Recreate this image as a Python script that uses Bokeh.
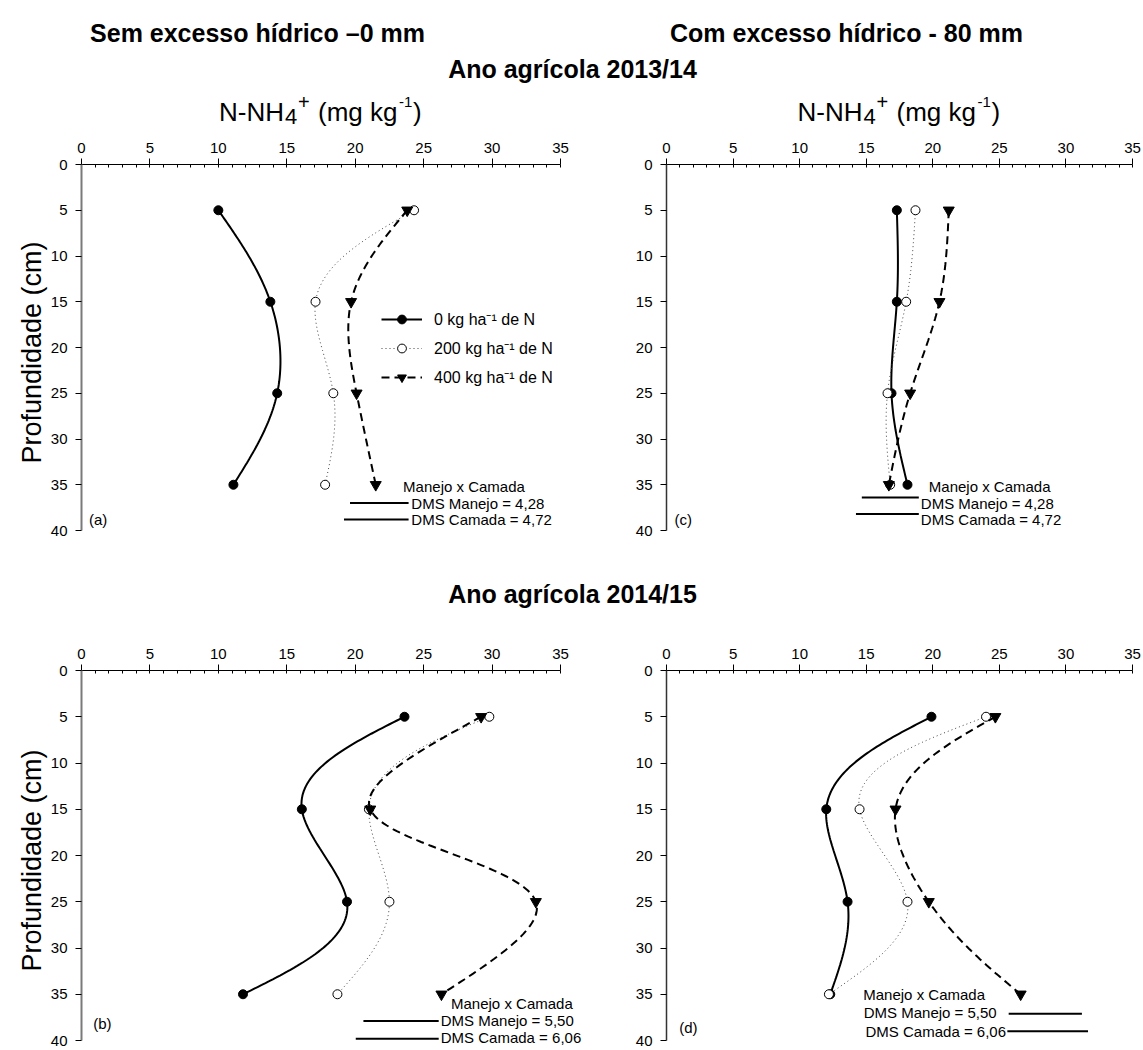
import numpy as np
from bokeh.plotting import figure
from bokeh.layouts import column, row
from bokeh.models import Range1d, FixedTicker, Label, Legend, LegendItem
from bokeh.embed import file_html
from bokeh.resources import INLINE

# ---------------- data ----------------
depth = [5, 15, 25, 35]

# 2013/14 - sem excesso hidrico (a)
a_n0 = [10.0, 13.8, 14.3, 11.1]
a_n200 = [24.3, 17.1, 18.4, 17.8]
a_n400 = [23.8, 19.7, 20.1, 21.5]
# 2013/14 - com excesso hidrico (c)
c_n0 = [17.3, 17.3, 16.9, 18.1]
c_n200 = [18.7, 18.0, 16.6, 16.8]
c_n400 = [21.2, 20.5, 18.3, 16.7]
# 2014/15 - sem excesso hidrico (b)
b_n0 = [23.6, 16.1, 19.4, 11.8]
b_n200 = [29.8, 21.0, 22.5, 18.7]
b_n400 = [29.2, 21.1, 33.2, 26.3]
# 2014/15 - com excesso hidrico (d)
d_n0 = [19.9, 12.0, 13.6, 12.3]
d_n200 = [24.0, 14.5, 18.1, 12.2]
d_n400 = [24.7, 17.2, 19.7, 26.6]

dms_2013 = [4.28, 4.72]   # Manejo, Camada
dms_2014 = [5.50, 6.06]

x_ticks = [0, 5, 10, 15, 20, 25, 30, 35]
y_ticks = [0, 5, 10, 15, 20, 25, 30, 35, 40]
series_labels = ["0 kg ha\u207b\u00b9 de N", "200 kg ha\u207b\u00b9 de N", "400 kg ha\u207b\u00b9 de N"]

FONT = "Liberation Sans"
X_MAX, Y_MAX = 35, 40


def natural(t, v, tt):
    t = np.asarray(t, float); v = np.asarray(v, float)
    k = len(t); h = np.diff(t)
    A = np.zeros((k, k)); r = np.zeros(k)
    A[0, 0] = A[-1, -1] = 1.0
    for i in range(1, k - 1):
        A[i, i - 1] = h[i - 1]; A[i, i] = 2 * (h[i - 1] + h[i]); A[i, i + 1] = h[i]
        r[i] = 6 * ((v[i + 1] - v[i]) / h[i] - (v[i] - v[i - 1]) / h[i - 1])
    M = np.linalg.solve(A, r)
    idx = np.clip(np.searchsorted(t, tt, side="right") - 1, 0, k - 2)
    t0 = t[idx]; t1 = t[idx + 1]; hh = t1 - t0
    a = (t1 - tt) / hh; b = (tt - t0) / hh
    return a * v[idx] + b * v[idx + 1] + ((a ** 3 - a) * M[idx] + (b ** 3 - b) * M[idx + 1]) * hh ** 2 / 6


def smooth(xv, yv, n=120, kx=13.5, ky=9.2):
    X = np.asarray(xv, float) * kx; Y = np.asarray(yv, float) * ky
    t = np.concatenate([[0.0], np.cumsum(np.hypot(np.diff(X), np.diff(Y)))])
    tt = np.linspace(0, t[-1], n)
    return natural(t, xv, tt), natural(t, yv, tt)


def fmt(v):
    return f"{v:.2f}".replace(".", ",")


def panel(series, left, top, letter, letter_xy, dms_cfg, legend=False):
    if left:
        W, bl, dw = 600, 81, 479
    else:
        W, bl, dw = 543, 66, 466
    if top:
        H, bt, dh = 408, 32, 366
    else:
        H, bt, dh = 440, 60, 370
    fw, fh = W - bl, H - bt
    x_end = X_MAX * fw / dw
    y_end = Y_MAX * fh / dh
    p = figure(width=W, height=H, x_range=Range1d(0, x_end), y_range=Range1d(y_end, 0),
               x_axis_location="above", output_backend="svg", toolbar_location=None,
               min_border_left=bl, min_border_right=0, min_border_top=bt, min_border_bottom=0)
    p.outline_line_color = None
    p.grid.visible = False
    p.background_fill_color = "white"

    xa = p.xaxis[0]
    xa.bounds = (0, X_MAX)
    xa.ticker = FixedTicker(ticks=x_ticks, minor_ticks=list(range(0, 36)))
    xa.major_tick_out = 6; xa.major_tick_in = 0
    xa.minor_tick_out = 0; xa.minor_tick_in = 3
    xa.major_label_standoff = 6
    xa.axis_line_color = "black"; xa.axis_line_width = 1
    xa.major_tick_line_color = "black"; xa.minor_tick_line_color = "black"
    xa.major_label_text_font = FONT; xa.major_label_text_font_size = "15px"
    xa.major_label_text_color = "black"

    ya = p.yaxis[0]
    ya.bounds = (0, Y_MAX)
    ya.ticker = FixedTicker(ticks=y_ticks, minor_ticks=[])
    ya.major_tick_out = 6; ya.major_tick_in = 0
    ya.minor_tick_out = 0; ya.minor_tick_in = 0
    ya.major_label_standoff = 8
    ya.axis_line_color = "#7a7a7a" if left else "#333333"
    ya.axis_line_width = 2 if left else 1.5
    ya.major_tick_line_color = "black"
    ya.major_label_text_font = FONT; ya.major_label_text_font_size = "15px"
    ya.major_label_text_color = "black"
    if left:
        ya.axis_label = "Profundidade (cm)"
        ya.axis_label_text_font = FONT
        ya.axis_label_text_font_size = "27px"
        ya.axis_label_text_font_style = "normal"
        ya.axis_label_text_color = "black"
        ya.axis_label_standoff = 1

    styles = [
        dict(line=dict(line_color="black", line_width=2),
             mk=dict(marker="circle", size=9, fill_color="black", line_color="black")),
        dict(line=dict(line_color="#444444", line_width=1, line_dash="1 3"),
             mk=dict(marker="circle", size=9, fill_color="white", line_color="black", line_width=1)),
        dict(line=dict(line_color="black", line_width=2, line_dash="8 5"),
             mk=dict(marker="inverted_triangle", size=11, fill_color="black", line_color="black")),
    ]
    items = []
    for vals, st, lab in zip(series, styles, series_labels):
        xs, ys = smooth(vals, depth)
        lr = p.line(xs, ys, **st["line"])
        sr = p.scatter(vals, depth, **st["mk"])
        items.append(LegendItem(label=lab, renderers=[lr, sr]))

    if legend:
        lg = Legend(items=items, location=(300, fh - dh + 142), orientation="vertical",
                    glyph_width=41, glyph_height=22, spacing=7, padding=0, margin=0,
                    label_standoff=12, label_height=22,
                    border_line_color=None, background_fill_alpha=0,
                    label_text_font=FONT, label_text_font_size="16px",
                    label_text_color="black")
        p.add_layout(lg)

    # panel letter
    p.add_layout(Label(x=letter_xy[0], y=letter_xy[1], text=letter, text_font=FONT,
                       text_font_size="15px", text_baseline="middle", text_align="left",
                       text_color="black"))

    # DMS annotations
    dms = dms_cfg["values"]
    mc = dms_cfg["mc"]
    p.add_layout(Label(x=mc[0], y=mc[1], text="Manejo x Camada", text_font=FONT,
                       text_font_size="15px", text_baseline="middle", text_align=mc[2],
                       text_color="black"))
    names = ["DMS Manejo = ", "DMS Camada = "]
    for i, (nm, v) in enumerate(zip(names, dms)):
        tx, ty, talign = dms_cfg["text"][i]
        p.add_layout(Label(x=tx, y=ty, text=nm + fmt(v), text_font=FONT,
                           text_font_size="15px", text_baseline="middle", text_align=talign,
                           text_color="black"))
        lx, ly, side = dms_cfg["line"][i]
        if side == "end":
            x0, x1 = lx - v, lx
        else:
            x0, x1 = lx, lx + v
        p.segment(x0=[x0], y0=[ly], x1=[x1], y1=[ly], line_color="black", line_width=2)
    return p


pa = panel([a_n0, a_n200, a_n400], True, True, "(a)", (0.55, 38.8),
           dict(values=dms_2013, mc=(23.5, 35.2, "left"),
                text=[(24.1, 37.0, "left"), (24.1, 38.8, "left")],
                line=[(23.9, 37.0, "end"), (23.9, 38.8, "end")]),
           legend=True)
pc = panel([c_n0, c_n200, c_n400], False, True, "(c)", (0.6, 38.8),
           dict(values=dms_2013, mc=(19.7, 35.2, "left"),
                text=[(19.1, 37.0, "left"), (19.1, 38.8, "left")],
                line=[(18.95, 36.4, "end"), (18.95, 38.2, "end")]))
pb = panel([b_n0, b_n200, b_n400], True, False, "(b)", (0.85, 38.2),
           dict(values=dms_2014, mc=(27.0, 36.0, "left"),
                text=[(26.25, 37.8, "left"), (26.25, 39.7, "left")],
                line=[(26.1, 37.9, "end"), (26.1, 39.8, "end")]))
pd_ = panel([d_n0, d_n200, d_n400], False, False, "(d)", (0.95, 38.6),
            dict(values=dms_2014, mc=(19.35, 35.0, "center"),
                 text=[(24.8, 37.0, "right"), (25.5, 39.0, "right")],
                 line=[(25.7, 37.1, "start"), (25.6, 39.0, "start")]))


def title_fig(h, labels, xtitles=()):
    f = figure(width=1143, height=h, output_backend="svg", toolbar_location=None,
               x_axis_location=None, y_axis_location=None, min_border=0,
               x_range=Range1d(0, 1), y_range=Range1d(0, 1))
    f.outline_line_color = None
    f.grid.visible = False
    for txt, x, y in labels:
        f.add_layout(Label(x=x, y=y, x_units="screen", y_units="screen", text=txt,
                           text_font=FONT, text_font_size="25px", text_font_style="bold",
                           text_align="center", text_baseline="middle", text_color="black"))
    parts = [("N-NH", 0, 0, "26px"), ("4", 66, -5, "22px"), ("+", 79, 10, "20px"),
             ("(mg kg", 99, 0, "26px"), ("-1", 180, 10, "15px"), (")", 194, 0, "26px")]
    for cx, yb in xtitles:
        x0 = cx - 102
        for txt, dx, dy, fs in parts:
            f.add_layout(Label(x=x0 + dx, y=yb + dy, x_units="screen", y_units="screen",
                               text=txt, text_font=FONT, text_font_size=fs,
                               text_baseline="alphabetic", text_align="left",
                               text_color="black"))
    return f


t1 = title_fig(132, [("Sem excesso hídrico \u20130 mm", 257, 100),
                     ("Com excesso hídrico - 80 mm", 846, 100),
                     ("Ano agrícola 2013/14", 572, 64)],
               xtitles=[(320.5, 21), (899, 21)])
t2 = title_fig(70, [("Ano agrícola 2014/15", 572, 17)])

layout = column(t1, row(pa, pc), t2, row(pb, pd_), spacing=0)

open("out.html", "w").write(file_html(layout, INLINE))
